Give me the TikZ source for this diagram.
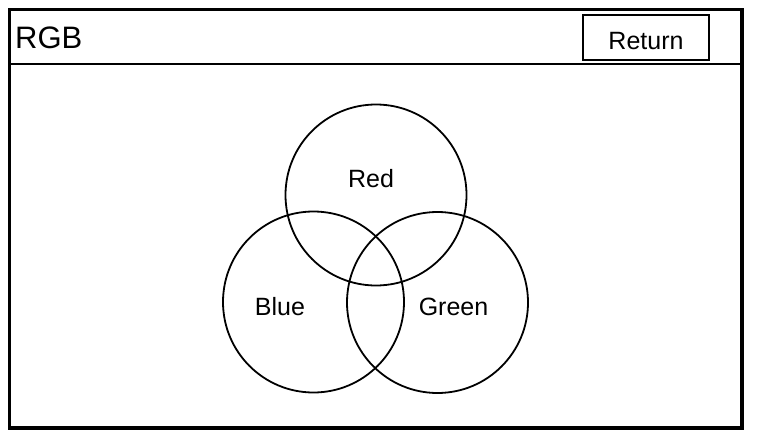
\documentclass[tikz,border=0pt]{standalone}
\usepackage{fontspec}
\setmainfont{Liberation Sans}
\begin{document}
\begin{tikzpicture}[x=1pt,y=-1pt,
  set/.style={draw, circle, line width=1.8pt, minimum size=181pt, inner sep=0pt},
  lbl/.style={anchor=base, inner sep=0pt, font=\fontsize{25}{25}\selectfont},
  btn/.style={draw, line width=2pt, minimum width=126pt, minimum height=45pt, inner sep=0pt}]
\useasboundingbox (0,0) rectangle (768,436);
\node[draw, line width=3.5pt, minimum width=732.5pt, minimum height=418.5pt, inner sep=0pt] (frame) at (375.75,218.75) {};
\coordinate (hl) at (9.5,64.5);
\coordinate (hr) at (742,64.5);
\draw[line width=2pt] (hl) -- (hr);
\node[anchor=base west, inner sep=0pt, font=\fontsize{31}{31}\selectfont] (title) at (15,48.5) {RGB};
\node[btn] (retbox) at (646,38) {};
\node[lbl] (ret) at (646,49) {Return};
\node[set] (red) at (376,195) {};
\node[set] (blue) at (313.5,302) {};
\node[set] (green) at (437.5,302.5) {};
\node[lbl] (redl) at (371,187) {Red};
\node[lbl] (bluel) at (280,315) {Blue};
\node[lbl] (greenl) at (453.5,315) {Green};
\end{tikzpicture}
\end{document}
